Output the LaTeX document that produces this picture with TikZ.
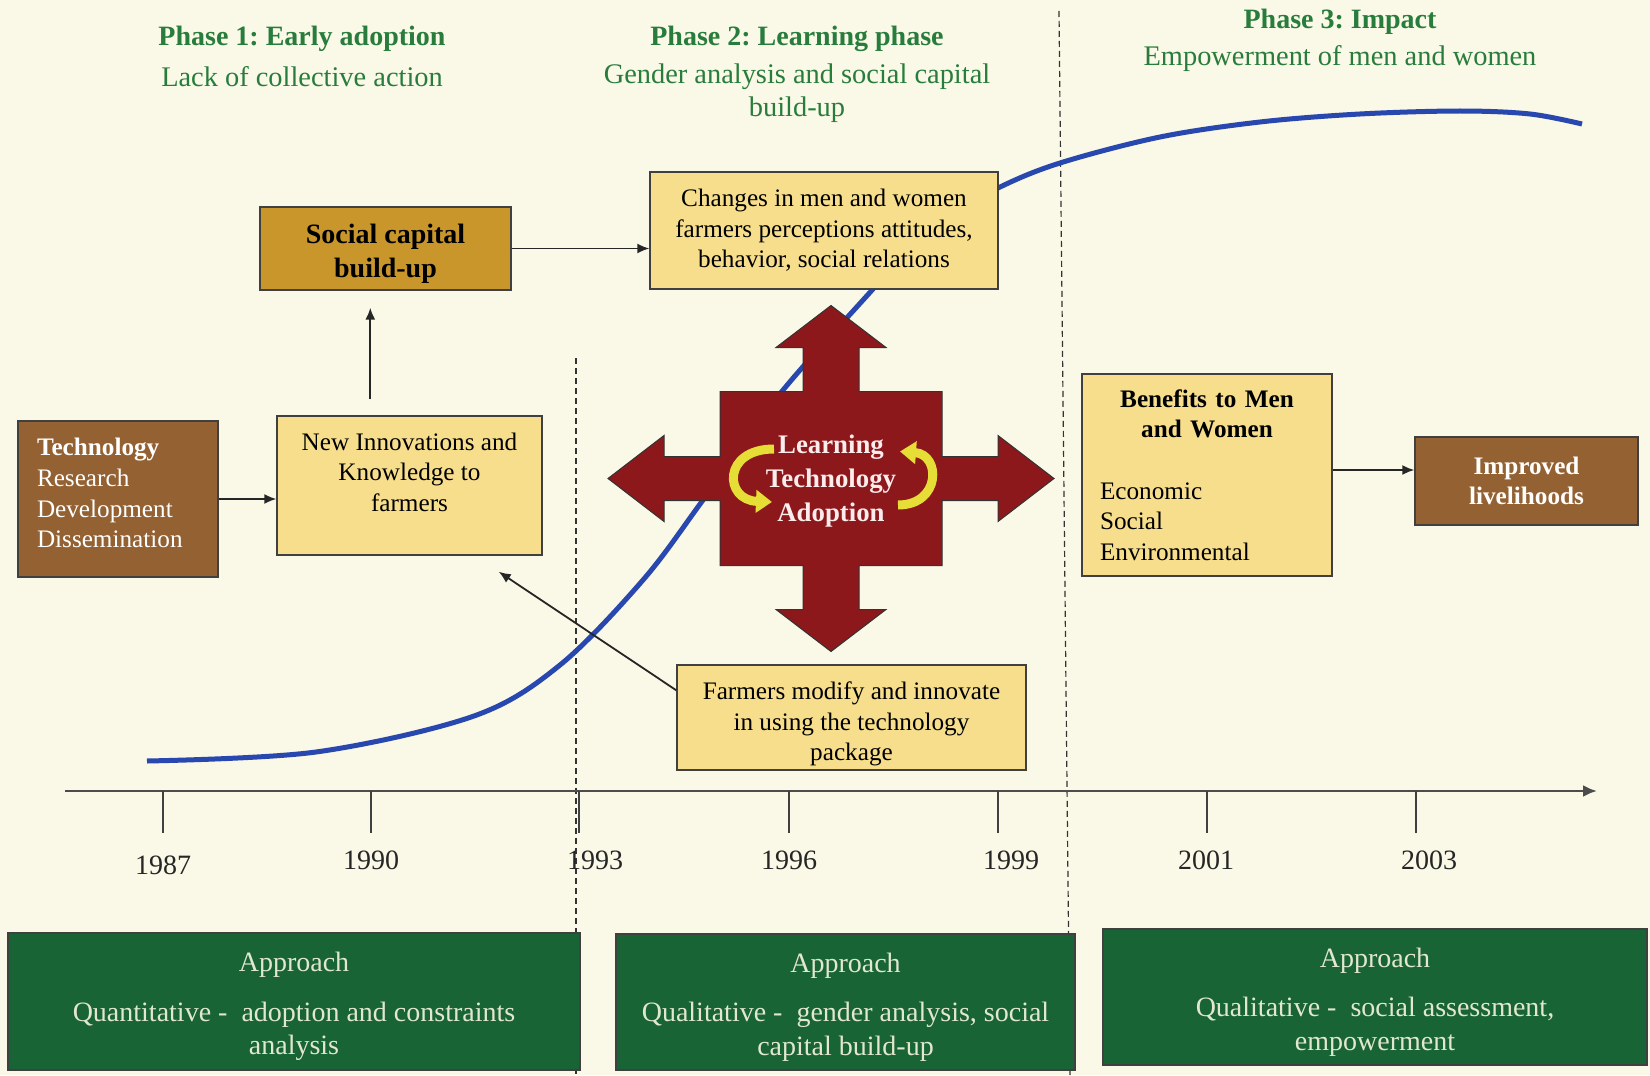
\documentclass[tikz,border=0pt]{standalone}
\usepackage{fontspec}
\setmainfont{Liberation Serif}
\usepackage{tikz}
\usetikzlibrary{arrows,arrows.meta,calc}

\definecolor{bgcream}{RGB}{250,248,230}
\definecolor{darkgold}{RGB}{200,150,42}
\definecolor{lightgold}{RGB}{246,222,140}
\definecolor{techbrown}{RGB}{148,97,50}
\definecolor{crossred}{RGB}{140,24,28}
\definecolor{phasegreen}{RGB}{40,125,60}
\definecolor{approachgreen}{RGB}{25,100,52}
\definecolor{approachtext}{RGB}{225,232,205}
\definecolor{curveblue}{RGB}{40,72,175}
\definecolor{loopyellow}{RGB}{230,222,55}

\newcommand{\pushup}[1]{\rule[-#1]{0pt}{#1}}
\newcommand{\pushdown}[1]{\rule{0pt}{#1}}
\frenchspacing

\begin{document}
\begin{tikzpicture}[x=0.5pt,y=-0.5pt]
\tikzstyle{box}=[rectangle,draw=black!75,line width=0.7pt,inner sep=0pt,align=center,font=\fontsize{12.6}{15.3}\selectfont]
\tikzstyle{pale}=[box,fill=lightgold]
\tikzstyle{techbox}=[box,fill=techbrown,text=white]
\tikzstyle{approach}=[box,fill=approachgreen,text=approachtext,font=\fontsize{14}{16.8}\selectfont]
\tikzstyle{phase}=[text=phasegreen,align=center,font=\bfseries\fontsize{14}{16.3}\selectfont]
\tikzstyle{phasesub}=[text=phasegreen,align=center,font=\fontsize{14.2}{16.3}\selectfont]
\tikzstyle{link}=[-{Latex[length=6pt,width=5pt]},line width=0.9pt,black!85]
\tikzstyle{phasedash}=[black!80,line width=0.6pt,dash pattern=on 3pt off 2pt]
\tikzstyle{year}=[font=\fontsize{14}{16}\selectfont,text=black!85]

% background
\fill[bgcream] (0,0) rectangle (1650,1075);

% phase titles
\node[phase] (p1) at (302,39) {Phase 1: Early adoption};
\node[phasesub] (s1) at (302,77) {Lack of collective action};
\node[phase] (p2) at (797,39) {Phase 2: Learning phase};
\node[phasesub] (s2) at (797,93) {Gender analysis and social capital\\build-up};
\node[phase] (p3) at (1340,22) {Phase 3: Impact};
\node[phasesub] (s3) at (1340,59) {Empowerment of men and women};

% phase borders
\coordinate (d1top) at (576,358);
\coordinate (d1bot) at (576,1075);
\coordinate (d2top) at (1059,11);
\coordinate (d2bot) at (1070,1075);
\draw[phasedash] (d1top) -- (d1bot);
\draw[phasedash] (d2top) -- (d2bot);

% adoption curve
\draw[curveblue,line width=2.5pt] plot[smooth,tension=0.55] coordinates {(147,761) (316,752) (474,716) (560,665) (643,580) (703,500) (779,395) (873,289) (930,226) (998,188) (1060,163) (1160,137) (1260,122) (1360,114) (1460,111) (1530,114) (1582,124)};

% time axis
\coordinate (axstart) at (65,791);
\coordinate (axend) at (1597,791);
\draw[-{Latex[length=7pt,width=6pt]},black!70,line width=1.4pt] (axstart) -- (axend);
\foreach \x/\yr/\lx/\ly in {163/1987/163/865,371/1990/371/860,579/1993/595/860,789/1996/789/860,998/1999/1011/860,1207/2001/1206/860,1416/2003/1429/860}{
  \draw[black!75,line width=0.7pt] (\x,791) -- (\x,833);
  \node[year] (y\yr) at (\lx,\ly) {\yr};
}

% boxes
\node[box,fill=darkgold,minimum width=125.5pt,minimum height=41.5pt,font=\bfseries\fontsize{14}{17}\selectfont] (social) at (385.5,248.5) {\pushdown{15pt}Social capital\\build-up};
\node[pale,minimum width=174pt,minimum height=58.5pt] (changes) at (824,230.5) {Changes in men and women\\farmers perceptions attitudes,\\behavior, social relations};
\node[techbox,minimum width=100pt,minimum height=78pt,text width=81pt,align=left] (tech) at (118,499) {\textbf{Technology}\\Research\\Development\\Dissemination\pushup{6pt}};
\node[pale,minimum width=132.5pt,minimum height=69.5pt] (innov) at (409.5,485.5) {New Innovations and\\Knowledge to\\farmers\pushup{13.4pt}};
\node[pale,minimum width=125pt,minimum height=101pt,text width=107pt,align=left] (benefits) at (1207,475) {\makebox[107pt]{\bfseries Benefits to Men}\\\makebox[107pt]{\bfseries and Women}\\[15.3pt]Economic\\Social\\Environmental};
\node[techbox,minimum width=111.5pt,minimum height=44pt,font=\bfseries\fontsize{12.6}{15.3}\selectfont] (improved) at (1526.5,481) {Improved\\livelihoods};
\node[pale,minimum width=174.5pt,minimum height=52.5pt] (farmers) at (851.5,717.5) {\pushdown{15.4pt}Farmers modify and innovate\\in using the technology\\package};

% learning cross
\begin{scope}[shift={(831,478.5)}]
\draw[fill=crossred,draw=black!80,line width=0.5pt] (0,-173) -- (55,-131) -- (28,-131) -- (28,-87) -- (111,-87) -- (111,-22) -- (167,-22) -- (167,-43) -- (223,0) -- (167,43) -- (167,22) -- (111,22) -- (111,87) -- (28,87) -- (28,131) -- (55,131) -- (0,173) -- (-55,131) -- (-28,131) -- (-28,87) -- (-111,87) -- (-111,22) -- (-167,22) -- (-167,43) -- (-223,0) -- (-167,-43) -- (-167,-22) -- (-111,-22) -- (-111,-87) -- (-28,-87) -- (-28,-131) -- (-55,-131) -- cycle;
\draw[loopyellow,line width=4.5pt,-{Triangle[length=8pt,width=11pt]}] (-57,-29.5) .. controls (-109,-29.5) and (-107,21.5) .. (-59,23.5);
\draw[loopyellow,line width=4.5pt,-{Triangle[length=8pt,width=11pt]}] (67,26.5) .. controls (110,26.5) and (110,-24) .. (69,-27);
\end{scope}
\node[align=center,text={rgb,255:red,252;green,236;blue,236},font=\bfseries\fontsize{13.4}{17}\selectfont] (hub) at (831,481) {Learning\\Technology\\Adoption};

% links
\draw[link] (tech.east) -- (tech.east -| innov.west);
\draw[link] ($(innov.north west)+(94,-16)$) -- ($(social.south west)+(111,17)$);
\draw[link] (social.east) -- (social.east -| changes.west);
\draw[link] ($(farmers.north west)+(0,26)$) -- ($(innov.south east)+(-44,16)$);
\draw[link] ($(benefits.east)+(0,-5)$) -- ($(benefits.east -| improved.west)+(0,-5)$);

% approaches
\node[approach,minimum width=286pt,minimum height=68.5pt] (appr1) at (294,1001.5) {\pushdown{14.8pt}Approach\\[8pt]Quantitative -\ \ adoption and constraints\\analysis};
\node[approach,minimum width=229.5pt,minimum height=68pt] (appr2) at (845.5,1002) {\pushdown{14.8pt}Approach\\[8pt]Qualitative -\ \ gender analysis, social\\capital build-up};
\node[approach,minimum width=272pt,minimum height=68pt] (appr3) at (1375,997) {\pushdown{14.8pt}Approach\\[8pt]Qualitative -\ \ social assessment,\\empowerment};
\end{tikzpicture}
\end{document}
